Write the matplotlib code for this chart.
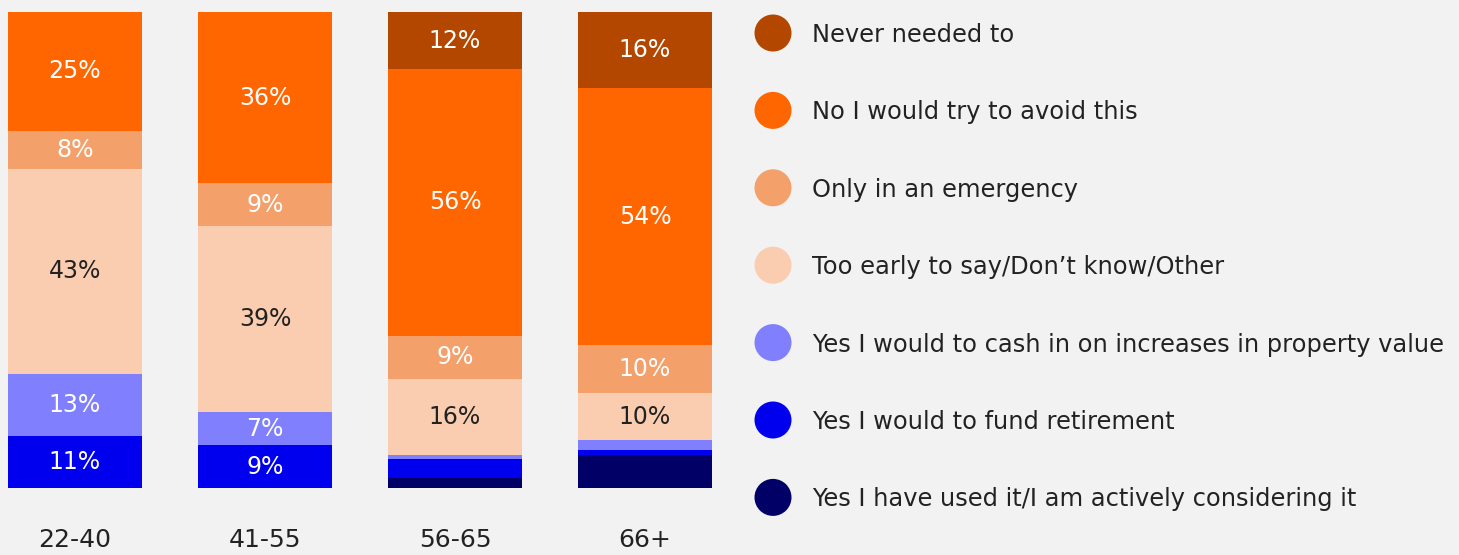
import numpy as np
import matplotlib.pyplot as plt
from matplotlib.patches import Ellipse

plt.rcParams['font.family'] = ['DejaVu Sans']

groups = ['22-40', '41-55', '56-65', '66+']

# stacked from the bottom up
used_it = [0, 0, 2, 7]
fund_retirement = [11, 9, 4, 1]
cash_in = [13, 7, 1, 2]
too_early = [43, 39, 16, 10]
emergency = [8, 9, 9, 10]
avoid = [25, 36, 56, 54]
never_needed = [0, 0, 12, 16]

# name, values, colour, label colour, show labels
series = [
    ('Yes I have used it/I am actively considering it', used_it, '#000066', 'white', False),
    ('Yes I would to fund retirement', fund_retirement, '#0000ee', 'white', True),
    ('Yes I would to cash in on increases in property value', cash_in, '#8080ff', 'white', True),
    ('Too early to say/Don\u2019t know/Other', too_early, '#fbcdb0', '#222222', True),
    ('Only in an emergency', emergency, '#f4a06a', 'white', True),
    ('No I would try to avoid this', avoid, '#ff6600', 'white', True),
    ('Never needed to', never_needed, '#b34700', 'white', True),
]

bg = '#f2f2f2'
fig = plt.figure(figsize=(14.59, 5.55), dpi=100, facecolor=bg)
W, H = 1459, 555
ax = fig.add_axes([8 / W, (H - 488) / H, (712 - 8) / W, (488 - 12) / H])
ax.set_facecolor(bg)

x = np.arange(len(groups))
width = 0.705
bottom = np.zeros(len(groups))
for name, vals, color, tc, show in series:
    vals = np.array(vals, dtype=float)
    ax.bar(x, vals, width, bottom=bottom, color=color, linewidth=0)
    if show:
        for xi, v, b in zip(x, vals, bottom):
            if v >= 5:
                ax.text(xi, b + v / 2, f'{int(v)}%', ha='center', va='center',
                        color=tc, fontsize=17)
    bottom += vals

ax.set_xlim(-width / 2, len(groups) - 1 + width / 2)
ax.set_ylim(0, 100)
ax.axis('off')
for xi, g in zip(x, groups):
    ax.text(xi, -11, g, ha='center', va='center', fontsize=18, color='#222222')

# legend with round markers on the right
leg = fig.add_axes([0, 0, 1, 1])
leg.set_xlim(0, W)
leg.set_ylim(H, 0)
leg.axis('off')
for i, (name, vals, color, tc, show) in enumerate(reversed(series)):
    yc = 33 + i * 77.4
    leg.add_patch(Ellipse((773, yc), 37, 37, color=color, lw=0))
    leg.text(812, yc + 2, name, ha='left', va='center', fontsize=17.4, color='#222222')

fig.savefig('out.png', dpi=100, facecolor=bg)
